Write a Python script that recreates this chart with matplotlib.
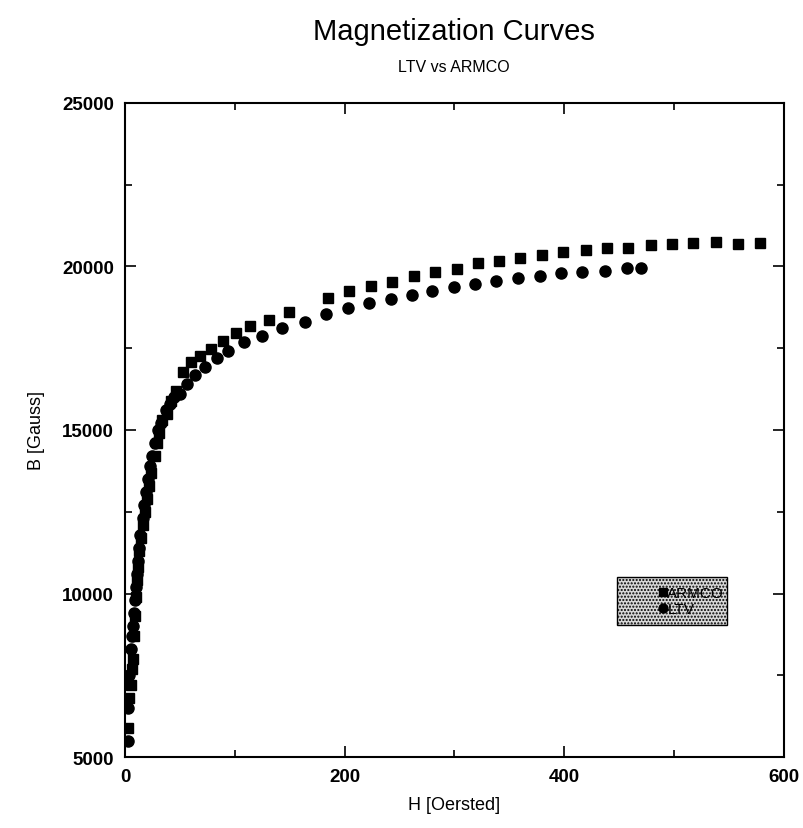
import numpy as np
import matplotlib
matplotlib.use('Agg')
import matplotlib.pyplot as plt
from matplotlib.patches import Rectangle
from matplotlib.ticker import MultipleLocator

# ARMCO (squares)
armco_h = [3, 4, 5, 6, 7, 8, 9, 10, 11, 12, 13, 15, 16, 18, 20, 22, 24, 27, 29, 31,
           34, 38, 42, 46, 53, 60, 68, 78, 89, 101, 114, 131, 149, 185, 204, 224,
           243, 263, 282, 302, 321, 341, 360, 380, 399, 420, 439, 458, 479, 498,
           517, 538, 558, 578]
armco_b = [5900, 6800, 7200, 7700, 8000, 8700, 9300, 9900, 10400, 10800, 11300,
           11700, 12100, 12500, 12900, 13300, 13700, 14200, 14600, 14900, 15300,
           15500, 15900, 16200, 16765, 17070, 17272, 17477, 17731, 17957, 18171,
           18373, 18600, 19028, 19242, 19395, 19535, 19719, 19823, 19924, 20098,
           20178, 20251, 20352, 20453, 20514, 20557, 20566, 20667, 20688, 20710,
           20740, 20688, 20710]

# LTV (circles)
ltv_h = [3, 3, 4, 5, 6, 7, 8, 9, 10, 11, 12, 13, 14, 16, 17, 19, 21, 23, 25, 27,
         30, 33, 37, 41, 45, 50, 56, 64, 73, 84, 94, 108, 125, 143, 164, 183, 203,
         222, 242, 261, 280, 300, 319, 338, 358, 378, 397, 416, 437, 457, 470]
ltv_b = [5500, 6500, 7500, 8300, 8700, 9000, 9400, 9800, 10200, 10600, 11000,
         11400, 11800, 12300, 12700, 13100, 13500, 13900, 14200, 14600, 15000,
         15200, 15600, 15800, 16000, 16100, 16400, 16682, 16936, 17193, 17425,
         17682, 17866, 18110, 18312, 18538, 18731, 18884, 19006, 19138, 19260,
         19364, 19465, 19548, 19649, 19700, 19792, 19823, 19872, 19954, 19954]

plt.rcParams['font.family'] = ['Liberation Sans', 'DejaVu Sans']

fig = plt.figure(figsize=(8.04, 8.29), dpi=100)
ax = fig.add_axes([0.1555, 0.0856, 0.8195, 0.789])

ax.plot(armco_h, armco_b, 's', color='black', markersize=7.5, label='ARMCO')
ax.plot(ltv_h, ltv_b, 'o', color='black', markersize=8, label='LTV')

ax.set_xlim(0, 600)
ax.set_ylim(5000, 25000)
ax.xaxis.set_major_locator(MultipleLocator(200))
ax.xaxis.set_minor_locator(MultipleLocator(100))
ax.yaxis.set_major_locator(MultipleLocator(5000))
ax.yaxis.set_minor_locator(MultipleLocator(2500))
ax.tick_params(which='both', direction='in', top=True, right=True, width=1.2)
ax.tick_params(which='major', length=8, labelsize=13.5, pad=8)
ax.tick_params(which='minor', length=5)
for lab in ax.get_xticklabels() + ax.get_yticklabels():
    lab.set_fontweight('bold')
for s in ax.spines.values():
    s.set_linewidth(1.5)

ax.set_xlabel('H [Oersted]', fontsize=13, labelpad=8)
ax.set_ylabel('B [Gauss]', fontsize=13, labelpad=12)

fig.text(0.565, 0.962, 'Magnetization Curves', ha='center', va='center', fontsize=21)
fig.text(0.565, 0.918, 'LTV vs ARMCO', ha='center', va='center', fontsize=11.5)

# legend box with stippled fill
ax.add_patch(Rectangle((0.747, 0.202), 0.166, 0.073, transform=ax.transAxes,
                       facecolor='#d8d8d8', edgecolor='black', hatch='.....',
                       linewidth=1.0, zorder=3))
leg = ax.legend(loc='center left', bbox_to_anchor=(0.8, 0.2385), frameon=False,
                handlelength=0.4, handletextpad=0.1, borderpad=0, labelspacing=0.15,
                markerscale=0.8, prop={'size': 11})
leg.set_zorder(4)

fig.savefig('out.png', dpi=100)
